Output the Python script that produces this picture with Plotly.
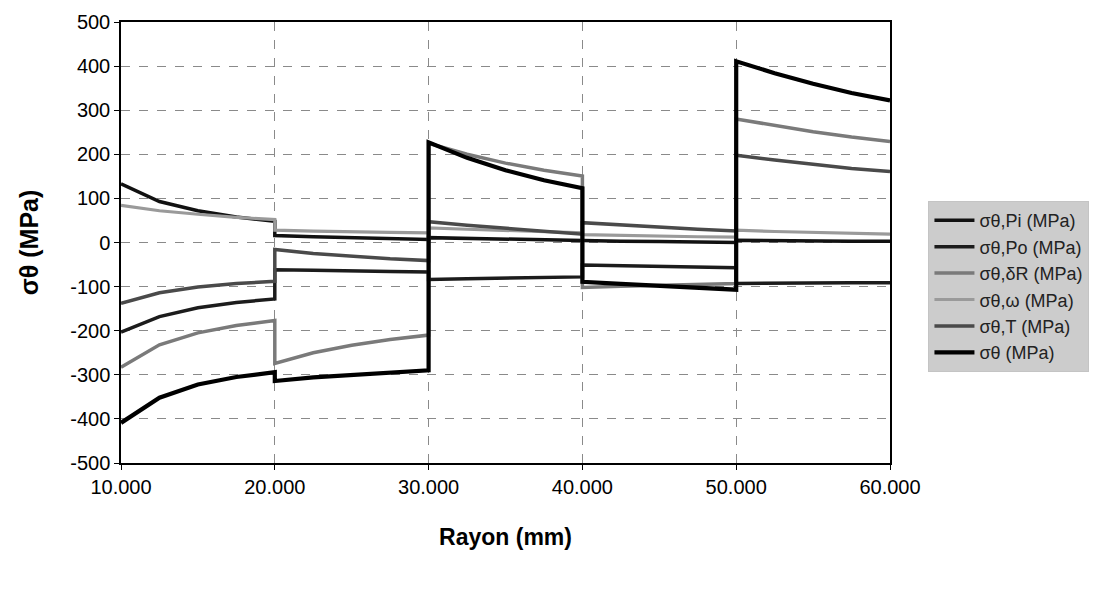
import plotly.graph_objects as go

# Radius positions (mm); each layer boundary appears twice (jump)
rayon = [10, 12.5, 15, 17.5, 20,
         20, 22.5, 25, 27.5, 30,
         30, 32.5, 35, 37.5, 40,
         40, 42.5, 45, 47.5, 50,
         50, 52.5, 55, 57.5, 60]

sig_pi = [133, 93, 72, 58, 48,
          16, 13, 11, 9, 7,
          11, 9, 8, 6, 5,
          4, 3, 2, 1, 0,
          5, 4, 4, 3, 3]

sig_po = [-203, -168, -148, -136, -128,
          -62, -63, -65, -66, -67,
          -84, -82, -81, -79, -78,
          -51, -53, -54, -56, -57,
          -93, -92, -92, -91, -91]

sig_dr = [-283, -232, -205, -188, -177,
          -274, -250, -233, -220, -210,
          225, 200, 180, 164, 151,
          -102, -99, -97, -95, -93,
          280, 265, 251, 239, 229]

sig_w = [84, 72, 64, 57, 52,
         28, 26, 24, 23, 22,
         33, 30, 27, 24, 22,
         18, 16, 15, 13, 12,
         28, 25, 23, 21, 19]

sig_t = [-138, -114, -101, -93, -88,
         -16, -25, -31, -37, -41,
         47, 39, 32, 25, 19,
         45, 40, 34, 30, 26,
         198, 187, 177, 168, 161]

sig_tot = [-409, -352, -322, -305, -294,
           -314, -306, -300, -294, -290,
           227, 192, 164, 141, 123,
           -89, -94, -99, -103, -107,
           411, 384, 360, 339, 322]

y_ticks = [500, 400, 300, 200, 100, 0, -100, -200, -300, -400, -500]
y_tick_labels = ["500", "400", "300", "200", "100", "0", "-100", "-200", "-300", "-400", "-500"]
x_ticks = [10, 20, 30, 40, 50, 60]
x_tick_labels = ["10.000", "20.000", "30.000", "40.000", "50.000", "60.000"]

names = ["σθ,Pi (MPa)", "σθ,Po (MPa)", "σθ,δR (MPa)", "σθ,ω (MPa)", "σθ,T (MPa)", "σθ (MPa)"]
series = [sig_pi, sig_po, sig_dr, sig_w, sig_t, sig_tot]
colors = ["#111111", "#1c1c1c", "#7a7a7a", "#9a9a9a", "#4a4a4a", "#000000"]
widths = [3.5, 3.5, 3.5, 3.2, 3.5, 4.2]

fig = go.Figure()
for n, s, c, w in zip(names, series, colors, widths):
    fig.add_trace(go.Scatter(x=rayon, y=s, mode="lines", name=n,
                             line=dict(color=c, width=w)))

font_family = "Liberation Sans, Arial, sans-serif"
fig.update_layout(
    width=1119, height=594,
    margin=dict(l=121, r=229, t=22, b=131),
    paper_bgcolor="white", plot_bgcolor="white",
    font=dict(family=font_family, color="black", size=20),
    showlegend=True,
    legend=dict(x=1.05, y=0.40, xanchor="left", yanchor="middle",
                bgcolor="#cccccc", bordercolor="#c4c4c4", borderwidth=1,
                font=dict(size=18, color="#222222"),
                tracegroupgap=0, itemwidth=40),
    xaxis=dict(range=[10, 60], tickvals=x_ticks, ticktext=x_tick_labels,
               showgrid=True, gridcolor="#8a8a8a", griddash="dash", gridwidth=1,
               showline=True, linecolor="black", linewidth=1.5, mirror=True,
               ticks="outside", ticklen=5, tickcolor="black",
               zeroline=False,
               title=dict(text="<b>Rayon (mm)</b>", font=dict(size=23), standoff=32),
               tickfont=dict(size=20)),
    yaxis=dict(range=[-500, 500], tickvals=y_ticks, ticktext=y_tick_labels,
               showgrid=True, gridcolor="#8a8a8a", griddash="dash", gridwidth=1,
               showline=True, linecolor="black", linewidth=1.5, mirror=True,
               ticks="outside", ticklen=5, tickcolor="black",
               zeroline=False,
               title=dict(text="<b>σθ (MPa)</b>", font=dict(size=25), standoff=24),
               tickfont=dict(size=20)),
)

fig.write_html("out.html")
